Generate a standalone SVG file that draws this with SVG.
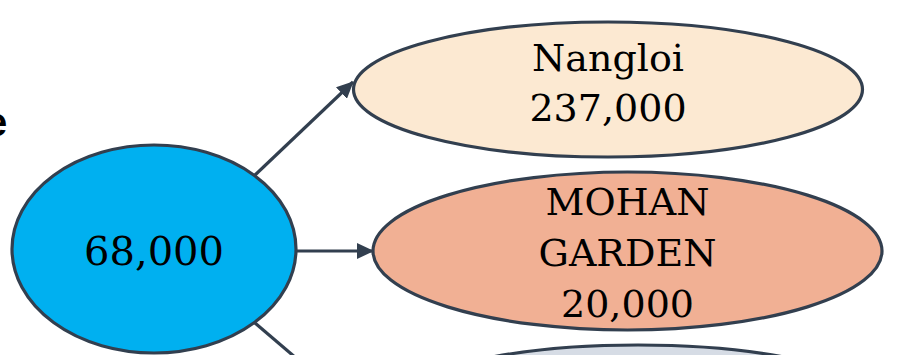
<svg xmlns="http://www.w3.org/2000/svg" width="899" height="355" viewBox="0 0 899 355">
<style>
.node{stroke:#323F4F;stroke-width:3.2}
.lbl{font-family:"DejaVu Serif","Liberation Serif",serif;font-size:38px;fill:#000;text-anchor:middle}
.conn{stroke:#323F4F;stroke-width:3.2;fill:none}
</style>
<defs>
<marker id="ah" markerUnits="userSpaceOnUse" markerWidth="18" markerHeight="16" refX="16" refY="8" orient="auto">
<path d="M0,0 L17,8 L0,16 Z" fill="#323F4F"/>
</marker>
</defs>
<rect width="899" height="355" fill="#fff"/>
<text x="-15" y="136" style="font-family:'Liberation Sans',sans-serif;font-weight:bold;font-size:40px;fill:#000">e</text>
<g id="connectors">
<line class="conn" x1="255" y1="175" x2="353" y2="82" marker-end="url(#ah)"/>
<line class="conn" x1="296" y1="251" x2="373" y2="251" marker-end="url(#ah)"/>
<line class="conn" x1="255" y1="323" x2="296" y2="358"/>
</g>
<g id="node-bottom">
<ellipse class="node" cx="638" cy="412" rx="254" ry="67" fill="#D6DCE5"/>
</g>
<g id="node-center">
<ellipse class="node" cx="154" cy="249" rx="142" ry="104" fill="#00B0F0"/>
<text class="lbl" x="154" y="265" style="font-size:40px">68,000</text>
</g>
<g id="node-nangloi">
<ellipse class="node" cx="608" cy="89.5" rx="254.5" ry="67.5" fill="#FCE9D2"/>
<text class="lbl" x="608" y="71">Nangloi</text>
<text class="lbl" x="608" y="121">237,000</text>
</g>
<g id="node-mohan">
<ellipse class="node" cx="627.5" cy="251" rx="254.5" ry="79" fill="#F1B094"/>
<text class="lbl" x="627.5" y="215">MOHAN</text>
<text class="lbl" x="627.5" y="266">GARDEN</text>
<text class="lbl" x="627.5" y="317">20,000</text>
</g>
</svg>
